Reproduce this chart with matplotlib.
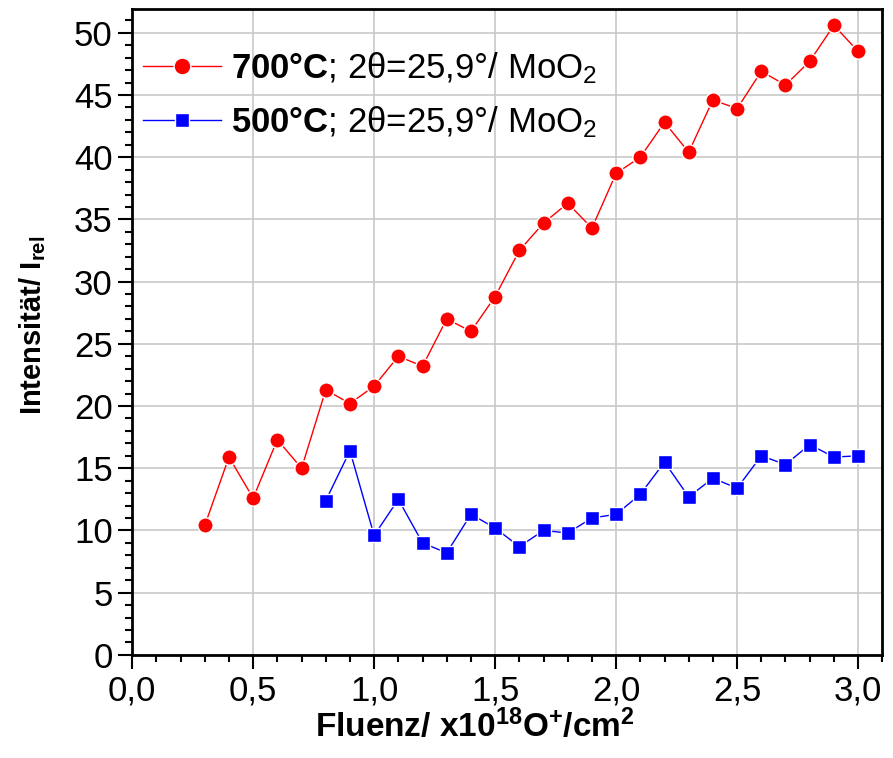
import matplotlib
matplotlib.use("Agg")
import matplotlib.pyplot as plt
from matplotlib.ticker import MultipleLocator, FuncFormatter

# ============================================================
# Data
# ============================================================

fluence_700 = [0.3, 0.4, 0.5, 0.6, 0.7, 0.8, 0.9, 1.0, 1.1, 1.2, 1.3, 1.4,
               1.5, 1.6, 1.7, 1.8, 1.9, 2.0, 2.1, 2.2, 2.3, 2.4, 2.5, 2.6,
               2.7, 2.8, 2.9, 3.0]
intensity_700 = [10.4, 15.9, 12.6, 17.3, 15.0, 21.3, 20.2, 21.6, 24.0, 23.2,
                 27.0, 26.0, 28.8, 32.5, 34.7, 36.3, 34.3, 38.7, 40.0, 42.8,
                 40.4, 44.6, 43.9, 46.9, 45.8, 47.7, 50.6, 48.5]

fluence_500 = [0.8, 0.9, 1.0, 1.1, 1.2, 1.3, 1.4, 1.5, 1.6, 1.7, 1.8, 1.9,
               2.0, 2.1, 2.2, 2.3, 2.4, 2.5, 2.6, 2.7, 2.8, 2.9, 3.0]
intensity_500 = [12.4, 16.4, 9.6, 12.5, 9.0, 8.2, 11.3, 10.2, 8.7, 10.0,
                 9.8, 11.0, 11.3, 12.9, 15.5, 12.7, 14.2, 13.4, 16.0, 15.3,
                 16.9, 15.9, 16.0]

label_700 = r"$\mathbf{700°C}$; 2θ=25,9°/ MoO$_2$"
label_500 = r"$\mathbf{500°C}$; 2θ=25,9°/ MoO$_2$"

# ============================================================
# Style
# ============================================================

plt.rcParams["font.family"] = ["Liberation Sans", "DejaVu Sans"]
plt.rcParams["mathtext.fontset"] = "custom"
plt.rcParams["mathtext.rm"] = "Liberation Sans"
plt.rcParams["mathtext.it"] = "Liberation Sans:italic"
plt.rcParams["mathtext.bf"] = "Liberation Sans:bold"

fig = plt.figure(figsize=(8.93, 7.58), dpi=100)
ax = fig.add_axes([0.148, 0.136, 0.840, 0.852])

ax.plot(fluence_700, intensity_700, color="red", lw=1.0, marker="o",
        ms=11, mfc="red", mec="white", mew=1.0, label=label_700, zorder=3)
ax.plot(fluence_500, intensity_500, color="blue", lw=1.0, marker="s",
        ms=9.5, mfc="blue", mec="white", mew=1.0, label=label_500, zorder=3)

ax.set_xlim(0, 3.1)
ax.set_ylim(0, 51.9)

ax.xaxis.set_major_locator(MultipleLocator(0.5))
ax.xaxis.set_minor_locator(MultipleLocator(0.1))
ax.yaxis.set_major_locator(MultipleLocator(5))
ax.yaxis.set_minor_locator(MultipleLocator(1))
ax.xaxis.set_major_formatter(FuncFormatter(lambda v, p: f"{v:.1f}".replace(".", ",")))

ax.grid(True, which="major", color="#c8c8c8", lw=1.2, zorder=0)
ax.set_axisbelow(True)

for side in ["left", "bottom", "top", "right"]:
    ax.spines[side].set_linewidth(2.0)

ax.tick_params(which="both", direction="out", top=False, right=False,
               width=1.5, labelsize=25, pad=4)
ax.tick_params(which="major", length=10)
ax.tick_params(which="minor", length=5)

ax.set_xlabel(r"Fluenz/ x10$^{\mathbf{18}}$O$^{\mathbf{+}}$/cm$^{\mathbf{2}}$",
              fontsize=24, fontweight="bold")
ax.set_ylabel(r"Intensität/ I$_{\mathbf{rel}}$", fontsize=21,
              fontweight="bold")
ax.xaxis.set_label_coords(0.457, -0.083)
ax.yaxis.set_label_coords(-0.112, 0.51)

ax.legend(loc="upper left", bbox_to_anchor=(0.0, 0.952), frameon=False,
          fontsize=25, handlelength=2.25, handletextpad=0.3,
          borderaxespad=0.2, labelspacing=0.51, borderpad=0.1,
          markerscale=1.1)

plt.savefig("out.png", dpi=100)
